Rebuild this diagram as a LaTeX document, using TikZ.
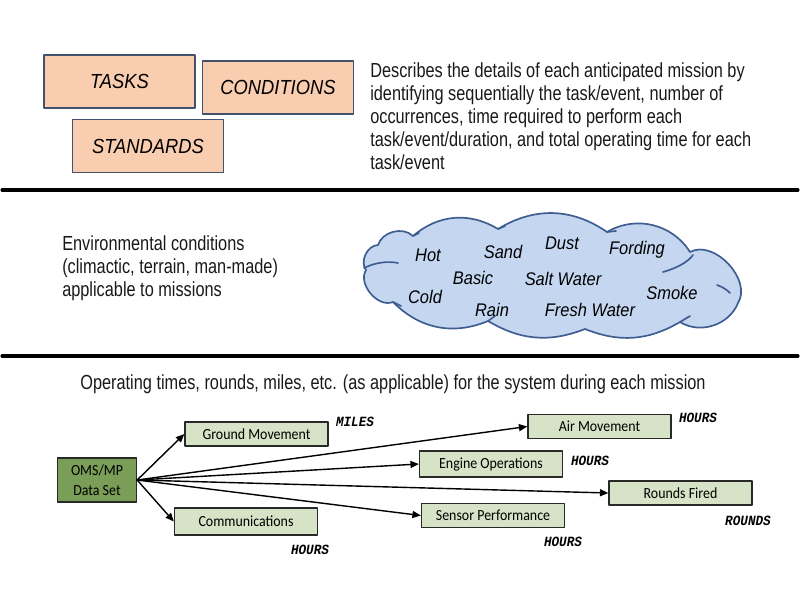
\documentclass[tikz,border=0pt]{standalone}
\usepackage{fontspec}
\setmainfont{Liberation Sans}[FakeStretch=0.8]
\newfontfamily\handfont{Liberation Sans}[FakeStretch=0.9]
\newfontfamily\boxfont{Carlito}[FakeStretch=0.9]
\newfontfamily\unitfont{Liberation Mono}[FakeStretch=0.9]
\usetikzlibrary{arrows.meta}
\definecolor{taskfill}{RGB}{249,205,175}
\definecolor{taskedge}{RGB}{66,82,108}
\definecolor{cloudfill}{RGB}{197,215,240}
\definecolor{cloudedge}{RGB}{62,94,146}
\definecolor{omsfill}{RGB}{122,158,88}
\definecolor{opfill}{RGB}{214,227,198}
\definecolor{opedge}{RGB}{40,40,40}
\definecolor{ink}{RGB}{25,25,25}
\tikzset{
  taskbox/.style={draw=taskedge,fill=taskfill,line width=1.3pt,minimum width=3.775cm,
    minimum height=1.325cm,inner sep=0pt,font=\handfont\itshape\fontsize{14.5}{16}\selectfont},
  bodytext/.style={anchor=north west,align=left,inner sep=0pt,text=ink,
    font=\fontsize{14.5}{16.4}\selectfont},
  word/.style={inner sep=0pt,font=\handfont\itshape\fontsize{13}{15}\selectfont},
  opbox/.style={draw=opedge,fill=opfill,line width=0.9pt,minimum width=3.575cm,
    minimum height=0.6cm,inner sep=0pt,font=\boxfont\fontsize{11}{13}\selectfont},
  unit/.style={inner sep=0pt,font=\unitfont\bfseries\itshape\fontsize{10}{12}\selectfont},
  flow/.style={line width=1pt,-{Triangle[length=6pt,width=5pt]}},
  rule/.style={line width=2.2pt}
}
\begin{document}
\begin{tikzpicture}[x=0.025cm,y=-0.025cm,line join=round,line cap=round]
  \useasboundingbox (0,0) rectangle (800,600);
  \node[taskbox] (tasks) at (119.5,81.5) {TASKS};
  \node[taskbox] (conditions) at (278,87.5) {CONDITIONS};
  \node[taskbox] (standards) at (148,146) {STANDARDS};
  \node[bodytext] (desc) at (370,62) {Describes the details of each anticipated mission by\\
    identifying sequentially the task/event, number of\\
    occurrences, time required to perform each\\
    task/event/duration, and total operating time for each\\
    task/event};
  \draw[rule] (2,190) -- (798,190);
  \node[bodytext] (envtext) at (62,235) {Environmental conditions\\
    (climactic, terrain, man-made)\\
    applicable to missions};
  \draw[draw=cloudedge,fill=cloudfill,line width=1.2pt]
    (366,270) to[bend left=62] (378,245) to[bend left=58] (413,236)
    to[bend left=36] (498,229) to[bend left=33] (607,232)
    to[bend left=44] (690,252) to[bend left=75] (738,303)
    to[bend left=50] (680,322) to[bend left=26] (585,329)
    to[bend left=26] (488,321) to[bend left=34] (393,302)
    to[bend left=72] cycle;
  \begin{scope}[draw=cloudedge,line width=1.2pt]
    \draw (364,268) .. controls (376,262) and (389,261) .. (398,263);
    \draw (663,272) .. controls (677,268) and (688,262) .. (693,255);
    \draw (717,285) .. controls (723,287) and (727,290) .. (730,293);
    \draw (413,236) -- (419,233);
    \draw (498,229) -- (505,226);
    \draw (607,232) -- (616,231);
    \draw (680,322) -- (690,316);
    \draw (488,321) -- (495,316);
    \draw (393,302) -- (401,306);
  \end{scope}
  \node[word] (hot) at (428,255) {Hot};
  \node[word] (sand) at (503,252) {Sand};
  \node[word] (dust) at (562,243) {Dust};
  \node[word] (fording) at (637,250) {Fording};
  \node[word] (basic) at (473,278) {Basic};
  \node[word] (salt) at (563,279) {Salt Water};
  \node[word] (smoke) at (672,293) {Smoke};
  \node[word] (cold) at (425,297) {Cold};
  \node[word] (rain) at (492,310) {Rain};
  \node[word] (fresh) at (590,310) {Fresh Water};
  \draw[rule] (2,356) -- (798,356);
  \node[bodytext,anchor=center] (ops) at (393,384) {Operating times, rounds, miles, etc. (as applicable) for the system during each mission};
  \node[opbox,fill=omsfill,minimum width=1.975cm,minimum height=1.1cm,align=center,
    font=\boxfont\fontsize{11}{14}\selectfont] (oms) at (97,480) {OMS/MP\\Data Set};
  \node[opbox] (ground) at (256.5,434) {Ground Movement};
  \node[opbox,minimum height=0.675cm] (comms) at (246,521.5) {Communications};
  \node[opbox] (air) at (599.5,426.5) {Air Movement};
  \node[opbox,minimum height=0.65cm] (engine) at (491,464) {Engine Operations};
  \node[opbox] (rounds) at (680.5,493) {Rounds Fired};
  \node[opbox] (sensor) at (493,515.5) {Sensor Performance};
  \foreach \t in {ground,comms,air,engine,rounds,sensor} {
    \draw[flow] (oms.east) -- (\t.west);
  }
  \node[unit] (miles) at (355,422) {MILES};
  \node[unit] (commshours) at (310,550) {HOURS};
  \node[unit] (airhours) at (698,418) {HOURS};
  \node[unit] (enginehours) at (590,461) {HOURS};
  \node[unit] (roundsunit) at (748,521) {ROUNDS};
  \node[unit] (sensorhours) at (563,542) {HOURS};
\end{tikzpicture}
\end{document}
